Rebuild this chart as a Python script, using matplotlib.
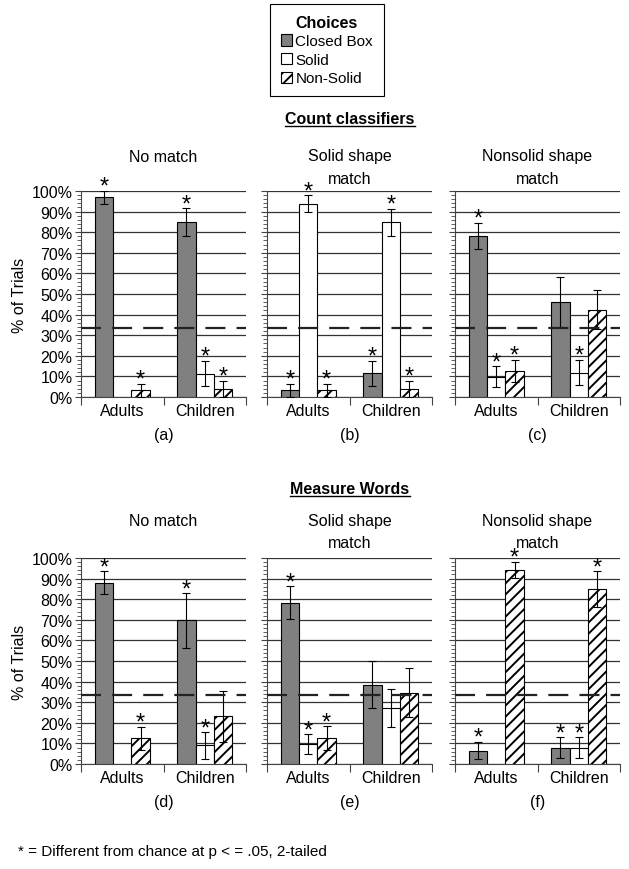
import numpy as np
import matplotlib
matplotlib.use("Agg")
import matplotlib.pyplot as plt
from matplotlib.patches import Patch
from matplotlib.lines import Line2D
from matplotlib.ticker import MultipleLocator, FixedLocator, PercentFormatter

plt.rcParams["font.family"] = ["Liberation Sans", "DejaVu Sans"]
plt.rcParams["hatch.linewidth"] = 1.4

# Categories and legend entries
groups = ["Adults", "Children"]
choices = ["Closed Box", "Solid", "Non-Solid"]
chance = 100 / 3

# Count classifiers: (a) no match, (b) solid shape match, (c) nonsolid shape match
means_a = [[97, 0, 3.2], [84.8, 11.3, 4]]
errs_a = [[3.2, 0, 3.2], [6.8, 6.2, 3.9]]
sig_a = [[1, 0, 1], [1, 1, 1]]

means_b = [[3.2, 93.9, 3.2], [11.5, 84.8, 4]]
errs_b = [[3.2, 4.1, 3.2], [6.2, 6.7, 3.8]]
sig_b = [[1, 1, 1], [1, 1, 1]]

means_c = [[78.3, 9.9, 12.8], [46.3, 11.8, 42.4]]
errs_c = [[6.4, 5.0, 5.4], [12.1, 6.2, 9.5]]
sig_c = [[1, 1, 1], [0, 1, 0]]

# Measure words: (d) no match, (e) solid shape match, (f) nonsolid shape match
means_d = [[87.9, 0, 12.6], [69.7, 9.0, 23.1]]
errs_d = [[5.6, 0, 5.6], [13.2, 6.5, 12.2]]
sig_d = [[1, 0, 1], [1, 1, 0]]

means_e = [[78.3, 9.7, 12.6], [38.5, 27.2, 34.6]]
errs_e = [[8.0, 4.8, 5.8], [11.5, 9.3, 11.9]]
sig_e = [[1, 1, 1], [0, 0, 0]]

means_f = [[6.5, 0, 94.2], [7.9, 7.9, 85.0]]
errs_f = [[4.2, 0, 4.0], [5.2, 5.2, 8.7]]
sig_f = [[1, 0, 1], [1, 1, 1]]

titles = ["No match", "Solid shape\nmatch", "Nonsolid shape\nmatch"]
letters_top = ["(a)", "(b)", "(c)"]
letters_bottom = ["(d)", "(e)", "(f)"]
section_titles = ["Count classifiers", "Measure Words"]
footnote = "* = Different from chance at p < = .05, 2-tailed"

bar_colors = ["#808080", "white", "white"]
bar_hatches = [None, None, "///"]

W, H = 629, 870
fig = plt.figure(figsize=(W / 100, H / 100), dpi=100)


def fx(px):
    return px / W


def fy(py):
    return 1 - py / H


col_left = [81, 267, 455]
col_width = 165
row_top = [192, 559]
row_height = 206
title_y = [157, 521.5]
letter_y = [436, 803]
FS = 11.5

panels = [
    [(means_a, errs_a, sig_a), (means_b, errs_b, sig_b), (means_c, errs_c, sig_c)],
    [(means_d, errs_d, sig_d), (means_e, errs_e, sig_e), (means_f, errs_f, sig_f)],
]
letters = [letters_top, letters_bottom]

bw = 0.222
offsets = [-bw, 0, bw]
centers = np.array([0.5, 1.5])

for r in range(2):
    for c in range(3):
        means, errs, sig = panels[r][c]
        ax = fig.add_axes([fx(col_left[c]), fy(row_top[r] + row_height),
                           fx(col_width), row_height / H])
        ax.set_xlim(0, 2)
        ax.set_ylim(0, 100)
        for g in range(2):
            for k in range(3):
                x = centers[g] + offsets[k]
                v = means[g][k]
                e = errs[g][k]
                if v <= 0:
                    continue
                ax.bar(x, v, width=bw, color=bar_colors[k], edgecolor="black",
                       linewidth=0.8, hatch=bar_hatches[k], zorder=3)
                ax.errorbar(x, v, yerr=e, fmt="none", ecolor="black",
                            elinewidth=0.8, capsize=3, capthick=0.8, zorder=4)
                if sig[g][k]:
                    ax.text(x, v + e - 1.0, "*", ha="center", va="baseline",
                            fontsize=17, zorder=5)
        ax.axhline(chance, color="#222222", lw=1.6, dashes=(9, 5), zorder=6,
                   clip_on=False)
        ax.yaxis.set_major_locator(MultipleLocator(10))
        ax.yaxis.set_minor_locator(MultipleLocator(2))
        ax.yaxis.set_major_formatter(PercentFormatter(decimals=0))
        ax.grid(axis="y", which="major", color="#333333", lw=0.9, zorder=1)
        ax.xaxis.set_major_locator(FixedLocator([0, 1, 2]))
        ax.xaxis.set_minor_locator(FixedLocator(centers))
        ax.set_xticklabels([])
        ax.set_xticklabels(groups, minor=True)
        ax.tick_params(axis="x", which="major", length=6, width=0.8, color="#444444")
        ax.tick_params(axis="x", which="minor", length=0, labelsize=FS, pad=4)
        ax.tick_params(axis="y", which="major", length=4, width=0.8,
                       color="#444444", labelsize=FS, pad=2)
        ax.tick_params(axis="y", which="minor", length=3, width=0.6, color="#444444")
        if c > 0:
            ax.tick_params(axis="y", labelleft=False)
        else:
            ax.set_ylabel("% of Trials", fontsize=FS, labelpad=3)
        ax.spines["right"].set_visible(False)
        ax.spines["top"].set_visible(False)
        for s in ["left", "bottom"]:
            ax.spines[s].set_color("#444444")
            ax.spines[s].set_linewidth(0.8)
        xc = col_left[c] + col_width / 2
        for i, line in enumerate(titles[c].split("\n")):
            fig.text(fx(xc), fy(title_y[r] + i * 22), line, ha="center",
                     va="center", fontsize=FS)
        fig.text(fx(xc), fy(letter_y[r]), letters[r][c], ha="center",
                 va="center", fontsize=FS)

# Section titles (bold, underlined)
sec1 = fig.text(fx(350), fy(120), section_titles[0], ha="center", va="center",
                fontsize=FS, fontweight="bold")
sec2 = fig.text(fx(350), fy(490), section_titles[1], ha="center", va="center",
                fontsize=FS, fontweight="bold")

# Legend
handles = [Patch(facecolor=bar_colors[k], edgecolor="black", linewidth=0.8,
                 hatch=bar_hatches[k], label=choices[k]) for k in range(3)]
leg = fig.legend(handles=handles, loc="upper center",
                 bbox_to_anchor=(fx(327), fy(5)), title="Choices",
                 title_fontproperties={"weight": "bold", "size": 11.5},
                 fontsize=11, frameon=True, fancybox=False, edgecolor="black",
                 framealpha=1, handlelength=0.75, handleheight=0.75,
                 handletextpad=0.2, labelspacing=0.3, borderpad=0.7,
                 borderaxespad=0)
leg.get_frame().set_linewidth(0.8)

fig.text(fx(18), fy(852), footnote, ha="left", va="center", fontsize=11)

# underline the bold headings
fig.canvas.draw()
renderer = fig.canvas.get_renderer()
for t in [sec1, sec2, leg.get_title()]:
    bb = t.get_window_extent(renderer)
    yline = bb.y0 + 1
    fig.add_artist(Line2D([bb.x0 / W, bb.x1 / W], [yline / H, yline / H],
                          color="black", lw=1.0, transform=fig.transFigure))

fig.savefig("out.png", dpi=100)
